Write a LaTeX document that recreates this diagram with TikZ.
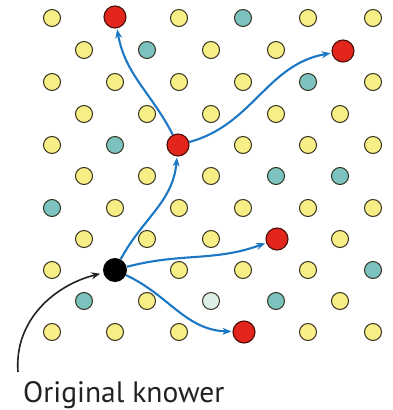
\documentclass[tikz,border=0pt]{standalone}
\usepackage{fontspec}
\setsansfont{PT Sans}
\usetikzlibrary{arrows.meta}

\definecolor{dotyellow}{HTML}{F8EE86}
\definecolor{dotteal}{HTML}{7CC3BF}
\definecolor{dotpale}{HTML}{DCEFE6}
\definecolor{dotline}{HTML}{34321F}
\definecolor{dotred}{HTML}{E2261C}
\definecolor{redline}{HTML}{4A0C08}
\definecolor{arrowblue}{HTML}{1C78C4}
\definecolor{textgray}{HTML}{222222}

\tikzset{
  dot/.style={circle, draw=dotline, line width=1pt, minimum size=17pt, inner sep=0pt},
  plain/.style={dot, fill=dotyellow},
  aware/.style={dot, fill=dotteal},
  faint/.style={dot, fill=dotpale},
  told/.style={circle, draw=redline, fill=dotred, line width=1.1pt, minimum size=22pt, inner sep=0pt},
  origin/.style={circle, fill=black, minimum size=24pt, inner sep=0pt},
  spread/.style={draw=arrowblue, line width=2.1pt, -{Stealth[length=9pt,width=7pt]}, shorten >=1pt},
  pointer/.style={draw=textgray, line width=1.6pt, -{Stealth[length=9pt,width=7pt]}, shorten >=3pt},
}

\begin{document}
\begin{tikzpicture}[x=1pt,y=1pt]
  \useasboundingbox[fill=white] (0,0) rectangle (393,-410);

  % people who have not heard yet
  \foreach \x/\y [count=\i] in {
      52/18, 179/18, 308/18, 373/18,
      84/50, 211/50, 276/50,
      52/82, 115/82, 179/82, 243/82, 373/82,
      84/114, 147/114, 211/114, 276/114, 340/114,
      52/145, 243/145, 308/145, 373/145,
      84/176, 147/176, 211/176,
      115/208, 179/208, 243/208, 308/208, 373/208,
      84/239, 147/239, 211/239, 340/239,
      52/270, 179/270, 243/270, 308/270,
      147/301, 340/301,
      52/332, 115/332, 179/332, 308/332, 373/332}
    \node[plain] (p\i) at (\x,-\y) {};

  % people of the other group
  \foreach \x/\y [count=\i] in {
      243/18, 147/50, 308/82, 115/145, 276/176,
      340/176, 52/208, 373/270, 84/301, 276/301}
    \node[aware] (q\i) at (\x,-\y) {};
  \node[faint] (r1) at (211,-301) {};

  % people who have been told
  \node[told] (topred) at (115,-17) {};
  \node[told] (farred) at (343,-51) {};
  \node[told] (hub) at (178,-145) {};
  \node[told] (midred) at (277,-239) {};
  \node[told] (lowred) at (244,-332) {};
  \node[origin] (source) at (115,-270) {};

  % how the news travels
  \draw[spread] (source) to[out=62,in=-95] (hub);
  \draw[spread] (hub) to[out=117,in=-80] (topred);
  \draw[spread] (hub) to[out=15,in=190] (farred);
  \draw[spread] (source) to[out=15,in=200] (midred);
  \draw[spread] (source) to[out=-25,in=178] (lowred);

  % caption and its pointer
  \node[anchor=base west, font=\sffamily\fontsize{29.5}{29.5}\selectfont,
        text=textgray, inner sep=0pt] (caption) at (23,-402) {Original knower};
  \coordinate (tail) at (18,-372);
  \draw[pointer] (tail) .. controls (14,-320) and (55,-285) .. (source);
\end{tikzpicture}
\end{document}
